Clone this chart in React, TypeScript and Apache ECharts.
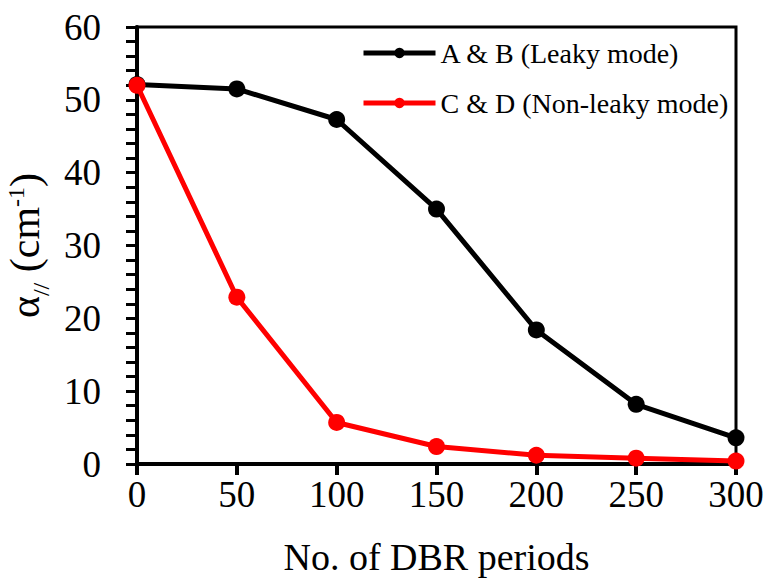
import React, { useEffect, useRef } from "react";
import * as echarts from "echarts";

const periods = [0, 50, 100, 150, 200, 250, 300];
const leakyValues = [52.1, 51.5, 47.3, 35.0, 18.4, 8.2, 3.6];
const nonLeakyValues = [52.0, 22.9, 5.7, 2.4, 1.2, 0.8, 0.4];
const seriesNames = ["A & B (Leaky mode)", "C & D (Non-leaky mode)"];

const FONT = "Liberation Serif, serif";

export default function App() {
  const ref = useRef<HTMLDivElement>(null);
  useEffect(() => {
    if (!ref.current) return;
    const chart = echarts.init(ref.current, null, { renderer: "svg" });
    const toPairs = (vals: number[]) => periods.map((p, i) => [p, vals[i]]);
    chart.setOption({
      animation: false,
      backgroundColor: "#ffffff",
      textStyle: { fontFamily: FONT },
      grid: {
        left: 137,
        right: 33,
        top: 27,
        bottom: 119,
        outerBoundsMode: "none",
        containLabel: false,
        show: true,
        borderColor: "#000",
        borderWidth: 3,
      },
      legend: {
        orient: "vertical",
        left: 356,
        top: 34,
        itemWidth: 72,
        itemHeight: 13,
        itemGap: 22,
        lineStyle: { width: 5 },
        textStyle: { fontFamily: FONT, fontSize: 28, color: "#000" },
        data: seriesNames,
      },
      xAxis: {
        type: "value",
        min: 0,
        max: 300,
        interval: 50,
        name: "No. of DBR periods",
        nameLocation: "middle",
        nameGap: 74,
        nameTextStyle: { fontFamily: FONT, fontSize: 38, color: "#000" },
        axisLine: { show: true, lineStyle: { color: "#000", width: 4 } },
        axisTick: { show: true, inside: false, length: 11, lineStyle: { color: "#000", width: 4 } },
        axisLabel: { fontFamily: FONT, fontSize: 37, color: "#000", margin: 12 },
        splitLine: { show: false },
      },
      yAxis: {
        type: "value",
        min: 0,
        max: 60,
        interval: 10,
        name: "{a|α}{sub|//}{a| (cm}{sup|-1}{a|)}",
        nameLocation: "middle",
        nameGap: 86,
        nameRotate: 90,
        nameTextStyle: {
          fontFamily: FONT,
          color: "#000",
          rich: {
            a: { fontFamily: FONT, fontSize: 42, color: "#000", verticalAlign: "bottom" },
            sub: { fontFamily: FONT, fontSize: 24, color: "#000", verticalAlign: "bottom", padding: [0, 0, -7, 0] },
            sup: { fontFamily: FONT, fontSize: 24, color: "#000", verticalAlign: "top", padding: [0, 0, 14, 0] },
          },
        },
        axisLine: { show: true, lineStyle: { color: "#000", width: 4 } },
        axisTick: { show: true, inside: false, length: 11, lineStyle: { color: "#000", width: 3 } },
        minorTick: { show: true, splitNumber: 5, length: 11, lineStyle: { color: "#000", width: 3 } },
        axisLabel: { fontFamily: FONT, fontSize: 37, color: "#000", margin: 36 },
        splitLine: { show: false },
      },
      series: [
        {
          name: seriesNames[0],
          type: "line",
          data: toPairs(leakyValues),
          symbol: "circle",
          symbolSize: 17,
          itemStyle: { color: "#000" },
          lineStyle: { color: "#000", width: 5 },
          z: 2,
        },
        {
          name: seriesNames[1],
          type: "line",
          data: toPairs(nonLeakyValues),
          symbol: "circle",
          symbolSize: 17,
          itemStyle: { color: "#ff0000" },
          lineStyle: { color: "#ff0000", width: 5 },
          z: 3,
        },
      ],
    });
    return () => chart.dispose();
  }, []);
  return (
    <div
      ref={ref}
      style={{ position: "absolute", left: 0, top: 0, width: 769, height: 583 }}
    />
  );
}
